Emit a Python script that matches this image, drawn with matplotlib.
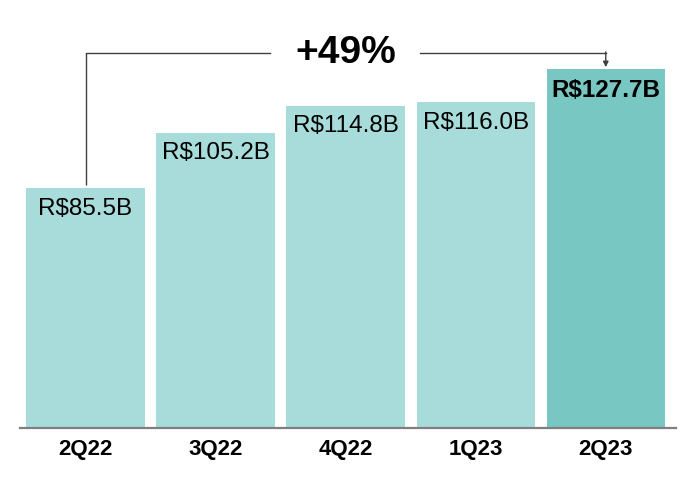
import matplotlib
matplotlib.use("Agg")
import matplotlib.pyplot as plt

categories = ["2Q22", "3Q22", "4Q22", "1Q23", "2Q23"]
values = [85.5, 105.2, 114.8, 116.0, 127.7]
labels = ["R$85.5B", "R$105.2B", "R$114.8B", "R$116.0B", "R$127.7B"]
growth_label = "+49%"

light = "#A8DCDA"
dark = "#78C7C3"

plt.rcParams["font.family"] = ["Liberation Sans", "DejaVu Sans"]

W, H = 690, 490
fig = plt.figure(figsize=(W / 100, H / 100), dpi=100)
ax_left, ax_right, ax_bottom, ax_top = 20, 676, 428, 20
ax = fig.add_axes([ax_left / W, (H - ax_bottom) / H, (ax_right - ax_left) / W, (ax_bottom - ax_top) / H])

x = list(range(len(categories)))
colors = [light] * (len(values) - 1) + [dark]
ax.bar(x, values, width=0.91, color=colors, zorder=2)

ax.set_xlim(-0.504, 4.54)
ax.set_ylim(0, 145.3)

for i, (v, lab) in enumerate(zip(values, labels)):
    bold = i == len(values) - 1
    ax.annotate(lab, (i, v), xytext=(0, -7), textcoords="offset points",
                ha="center", va="top", fontsize=17.5,
                fontweight="bold" if bold else "normal", color="black", zorder=3)

# bracket
ytop = max(values) * 1.046
lc = "#404040"
ax.plot([0, 0], [values[0] + 1.0, ytop], color=lc, lw=1.0, solid_capstyle="butt", zorder=3, clip_on=False)
ax.plot([0, 1.42], [ytop, ytop], color=lc, lw=1.0, zorder=3, clip_on=False)
ax.plot([2.57, 4], [ytop, ytop], color=lc, lw=1.0, zorder=3, clip_on=False)
ax.annotate("", xy=(4, values[-1] + 0.8), xytext=(4, ytop + 0.35),
            arrowprops=dict(arrowstyle="-|>", color=lc, lw=1.0, mutation_scale=8,
                            shrinkA=0, shrinkB=0), zorder=3, annotation_clip=False)
ax.text(2.0, ytop, growth_label, ha="center", va="center", fontsize=28,
        fontweight="bold", color="black")

for s in ["top", "right", "left"]:
    ax.spines[s].set_visible(False)
ax.spines["bottom"].set_color("#7f7f7f")
ax.spines["bottom"].set_linewidth(1.6)
ax.set_yticks([])
ax.set_xticks(x)
ax.set_xticklabels(categories, fontsize=16, fontweight="bold")
ax.tick_params(axis="x", length=0, pad=8)

fig.savefig("out.png", dpi=100)
